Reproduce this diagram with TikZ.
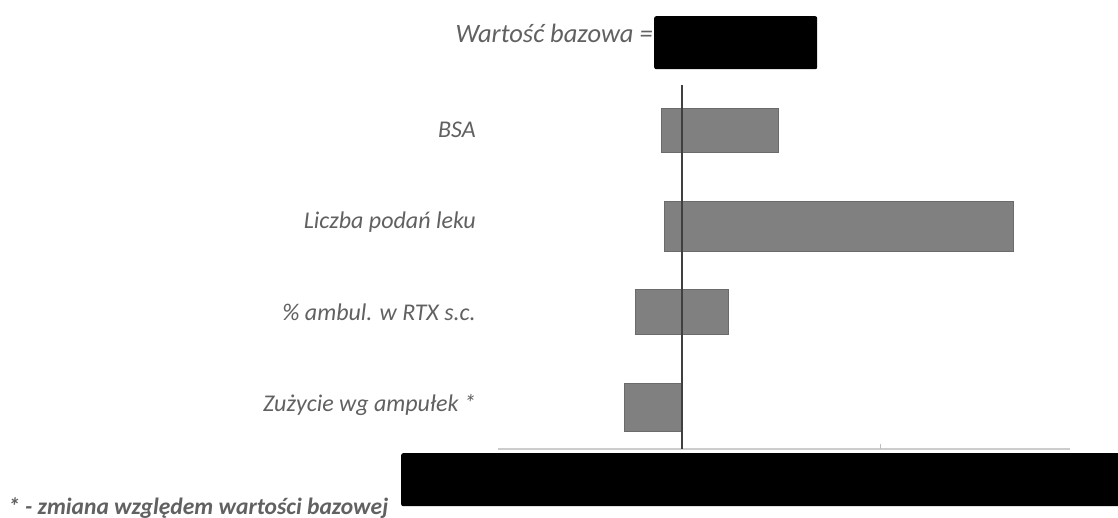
\documentclass[tikz,border=0pt]{standalone}
\usepackage{fontspec}
\setmainfont{Carlito}
\begin{document}
\begin{tikzpicture}[x=1pt,y=-1pt,
  lbl/.style={anchor=east, inner sep=0pt, text=black!62, font=\fontsize{24}{28}\selectfont\itshape},
  bar/.style={fill=black!50, draw=black!58, line width=0.8pt, anchor=west, inner sep=0pt, minimum height=#1},
  bar/.default=44pt,
  mask/.style={fill=black, rounded corners=2pt, inner sep=0pt, anchor=north west}
]
\useasboundingbox (0,0) rectangle (1118,518);
\fill[white] (0,0) rectangle (1118,518);
% axis
\coordinate (axL) at (498,449);
\coordinate (axR) at (1070,449);
\draw[black!20, line width=2pt] (axL) -- (axR);
\coordinate (tk) at (880,449);
\draw[black!25, line width=1pt] (tk) -- ++(0,-5);
% bars
\node[bar, minimum width=117pt] (bsa) at (661,130) {};
\node[bar, minimum width=349pt, minimum height=50pt] (lpl) at (664,226) {};
\node[bar, minimum width=93pt, minimum height=45pt] (amb) at (635,312) {};
\node[bar, minimum width=57pt, minimum height=48pt] (zuz) at (624,407) {};
% vertical base line
\coordinate (vt) at (682,85);
\coordinate (vb) at (682,449);
\draw[black!75, line width=2pt] (vt) -- (vb);
% labels
\node[lbl] (lbsa) at (476,130) {BSA};
\node[lbl] (llpl) at (476,222) {Liczba podań leku};
\node[lbl] (lamb) at (476,312) {\% ambul. w RTX s.c.};
\node[lbl] (lzuz) at (476,405) {Zużycie wg ampułek *};
\node[lbl, anchor=base east, font=\fontsize{26.5}{30}\selectfont\itshape] (lwb) at (653,43) {Wartość bazowa =};
% masks
\node[mask, minimum width=163pt, minimum height=53pt] (m1) at (654,16) {};
\node[mask, minimum width=720pt, minimum height=53pt] (m2) at (401,453) {};
% footnote
\node[anchor=base west, inner sep=0pt, text=black!62, font=\fontsize{23.5}{26}\selectfont\bfseries\itshape] (fn) at (8,514) {* - zmiana względem wartości bazowej};
\end{tikzpicture}
\end{document}
